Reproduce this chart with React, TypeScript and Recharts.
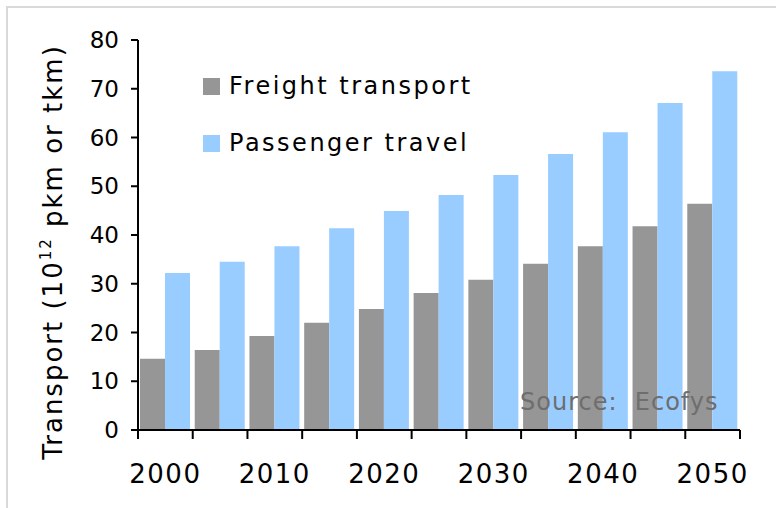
import { BarChart, Bar, XAxis, YAxis, Legend, Label } from 'recharts';

const years = ['2000', '2005', '2010', '2015', '2020', '2025', '2030', '2035', '2040', '2045', '2050'];
const freight = [14.6, 16.4, 19.3, 22.0, 24.8, 28.1, 30.8, 34.1, 37.7, 41.8, 46.4];
const passenger = [32.2, 34.5, 37.7, 41.4, 44.9, 48.2, 52.3, 56.6, 61.1, 67.1, 73.6];
const yTicks = [0, 10, 20, 30, 40, 50, 60, 70, 80];

const data = years.map((year, i) => ({
	year,
	freight: freight[i],
	passenger: passenger[i],
}));

const FONT = '"DejaVu Sans", Verdana, sans-serif';

const XTick = (props: any) => {
	const { x, y, payload, index } = props;
	const half = payload?.offset ?? 602 / 11 / 2;
	const last = index === years.length - 1;
	return (
		<g>
			<line x1={x - half} x2={x - half} y1={y} y2={y + 9} stroke="#000" strokeWidth={2} />
			{last && <line x1={x + half} x2={x + half} y1={y} y2={y + 9} stroke="#000" strokeWidth={2} />}
			{index % 2 === 0 && (
				<text x={x} y={y + 53} textAnchor="middle" fontSize={26} letterSpacing={1.5} fill="#000" fontFamily={FONT}>
					{payload.value}
				</text>
			)}
		</g>
	);
};

const YTitle = () => (
	<text
		x={62}
		y={252}
		transform="rotate(-90, 62, 252)"
		textAnchor="middle"
		fontSize={26}
		letterSpacing={2}
		fill="#000"
		fontFamily={FONT}>
		<tspan>Transport (10</tspan>
		<tspan fontSize={15} dy={-11}>12</tspan>
		<tspan dy={11}> pkm or tkm)</tspan>
	</text>
);

const LegendBox = ({ payload }: any) => (
	<div style={{ fontFamily: FONT }}>
		{(payload || []).map((e: any) => (
			<div key={e.value} style={{ display: 'flex', alignItems: 'center', height: 57, lineHeight: '57px' }}>
				<span style={{ width: 17, height: 17, background: e.color, marginRight: 9, display: 'inline-block' }} />
				<span style={{ fontSize: 24, letterSpacing: 2.5, color: '#000', whiteSpace: 'nowrap' }}>{e.value}</span>
			</div>
		))}
	</div>
);

export default function App() {
	return (
		<div style={{ position: 'absolute', left: 0, top: 0, width: 776, height: 508, overflow: 'hidden', background: '#fff' }}>
			<div
				style={{
					position: 'absolute',
					left: 6,
					top: 6,
					width: 800,
					height: 520,
					borderLeft: '2px solid #d9d9d9',
					borderTop: '2px solid #d9d9d9',
				}}
			/>
			<div style={{ position: 'absolute', left: 0, top: 0 }}>
				<BarChart
					width={776}
					height={508}
					data={data}
					margin={{ top: 40, right: 36, bottom: 28, left: 60 }}
					barCategoryGap={2}
					barGap={0}
					style={{ fontFamily: FONT }}>
					<XAxis
						dataKey="year"
						height={50}
						interval={0}
						tickSize={0}
						tickMargin={0}
						tickLine={false}
						tick={<XTick />}
						axisLine={{ stroke: '#000', strokeWidth: 2 }}
					/>
					<YAxis
						width={78}
						domain={[0, 80]}
						ticks={yTicks}
						interval={0}
						tickSize={7}
						tickMargin={12}
						tick={{ fontSize: 23, fill: '#000', fontFamily: FONT }}
						tickLine={{ stroke: '#000', strokeWidth: 2 }}
						axisLine={{ stroke: '#000', strokeWidth: 2 }}>
						<Label content={<YTitle />} />
					</YAxis>
					<Legend
						layout="vertical"
						align="center"
						verticalAlign="middle"
						content={<LegendBox />}
						wrapperStyle={{ left: 203, top: 58, width: 320, height: 120 }}
					/>
					<Bar dataKey="freight" name="Freight transport" fill="#969696" isAnimationActive={false} />
					<Bar dataKey="passenger" name="Passenger travel" fill="#99ccff" isAnimationActive={false} />
				</BarChart>
			</div>
			<div
				style={{
					position: 'absolute',
					left: 520,
					top: 390,
					fontFamily: FONT,
					fontSize: 24,
					lineHeight: '24px',
					letterSpacing: 1,
					color: '#6e6e6e',
					whiteSpace: 'pre',
				}}>
				Source:  Ecofys
			</div>
		</div>
	);
}
